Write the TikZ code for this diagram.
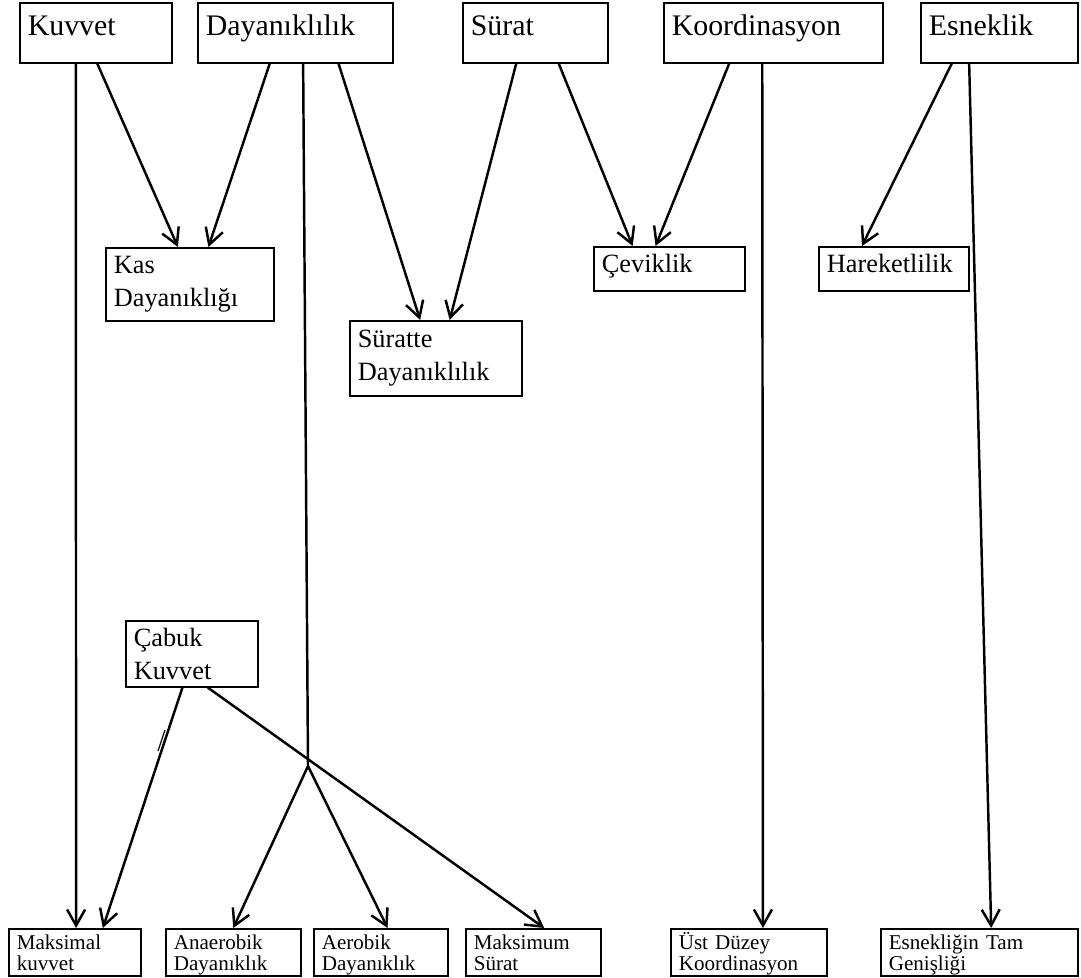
\documentclass[tikz,border=0pt]{standalone}
\usepackage{fontspec}
\setmainfont{Liberation Serif}
\usetikzlibrary{arrows.meta,calc}

\begin{document}
\begin{tikzpicture}[x=0.02cm,y=-0.02cm,
  box/.style={draw,line width=0.9pt,anchor=north west,align=left,inner xsep=0.16cm,inner ysep=0pt,text width=#1},
  topbox/.style={box=#1,font=\fontsize{17}{20}\selectfont,text height=0.66cm,text depth=0.54cm},
  midbox/.style={box=#1,font=\fontsize{15}{19}\selectfont},
  lowbox/.style={box=#1,font=\fontsize{12}{12}\selectfont,text height=0.42cm,text depth=0.52cm},
  link/.style={line width=1.4pt},
  arr/.style={link,-{Straight Barb[length=3.2mm,width=3.6mm]}}]
  \useasboundingbox (0,0) rectangle (1081,977);

  % top row
  \node[topbox=2.72cm] (kuvvet) at (19,2) {Kuvvet};
  \node[topbox=3.58cm] (dayan) at (197,2) {Dayanıklılık};
  \node[topbox=2.58cm] (surat) at (462,2) {Sürat};
  \node[topbox=4.06cm] (koord) at (663,2) {Koordinasyon};
  \node[topbox=2.82cm] (esnek) at (920,2) {Esneklik};

  % middle
  \node[midbox=3.04cm,minimum height=1.46cm] (kas) at (105,247) {Kas\\Dayanıklığı};
  \node[midbox=3.12cm,minimum height=1.5cm] (suratte) at (349,320) {Süratte\\Dayanıklılık};
  \node[midbox=2.70cm,text height=0.52cm,text depth=0.36cm] (cevik) at (593,246) {Çeviklik};
  \node[midbox=2.68cm,text height=0.52cm,text depth=0.36cm] (hareket) at (818,246) {Hareketlilik};
  \node[midbox=2.32cm,minimum height=1.32cm] (cabuk) at (125,620) {Çabuk\\Kuvvet};

  % bottom row
  \node[lowbox=2.32cm] (maksimal) at (8,928) {Maksimal\\kuvvet};
  \node[lowbox=2.38cm] (anaerob) at (165,928) {Anaerobik\\Dayanıklık};
  \node[lowbox=2.36cm] (aerob) at (313,928) {Aerobik\\Dayanıklık};
  \node[lowbox=2.38cm] (maksimum) at (465,928) {Maksimum\\Sürat};
  \node[lowbox=2.80cm] (ust) at (670,928) {Üst Düzey\\Koordinasyon};
  \node[lowbox=3.62cm] (genis) at (880,928) {Esnekliğin Tam\\Genişliği};

  \coordinate (fork) at (308,766);

  % Kuvvet
  \draw[arr] ($(kuvvet.south west)!0.37!(kuvvet.south east)$) -- ($(maksimal.north west)!0.51!(maksimal.north east)$);
  \draw[arr] ($(kuvvet.south west)!0.51!(kuvvet.south east)$) -- ($(kas.north west)!0.43!(kas.north east)$);

  % Dayaniklilik
  \draw[arr] ($(dayan.south west)!0.37!(dayan.south east)$) -- ($(kas.north west)!0.61!(kas.north east)$);
  \draw[link] ($(dayan.south west)!0.54!(dayan.south east)$) -- (fork);
  \draw[arr] (fork) -- ($(anaerob.north west)!0.5!(anaerob.north east)$);
  \draw[arr] (fork) -- ($(aerob.north west)!0.55!(aerob.north east)$);
  \draw[arr] ($(dayan.south west)!0.72!(dayan.south east)$) -- ($(suratte.north west)!0.41!(suratte.north east)$);

  % Surat
  \draw[arr] ($(surat.south west)!0.37!(surat.south east)$) -- ($(suratte.north west)!0.58!(suratte.north east)$);
  \draw[arr] ($(surat.south west)!0.66!(surat.south east)$) -- ($(cevik.north west)!0.26!(cevik.north east)$);

  % Koordinasyon
  \draw[arr] ($(koord.south west)!0.30!(koord.south east)$) -- ($(cevik.north west)!0.41!(cevik.north east)$);
  \draw[arr] ($(koord.south west)!0.45!(koord.south east)$) -- ($(ust.north west)!0.59!(ust.north east)$);

  % Esneklik
  \draw[arr] ($(esnek.south west)!0.20!(esnek.south east)$) -- ($(hareket.north west)!0.29!(hareket.north east)$);
  \draw[arr] ($(esnek.south west)!0.31!(esnek.south east)$) -- ($(genis.north west)!0.56!(genis.north east)$);

  % Cabuk Kuvvet
  \draw[arr] ($(cabuk.south west)!0.43!(cabuk.south east)$) -- ($(maksimal.north west)!0.71!(maksimal.north east)$);
  \draw[line width=0.7pt] (165,730) -- (158,751);
  \draw[arr] ($(cabuk.south west)!0.62!(cabuk.south east)$) -- ($(maksimum.north west)!0.58!(maksimum.north east)$);
\end{tikzpicture}
\end{document}
